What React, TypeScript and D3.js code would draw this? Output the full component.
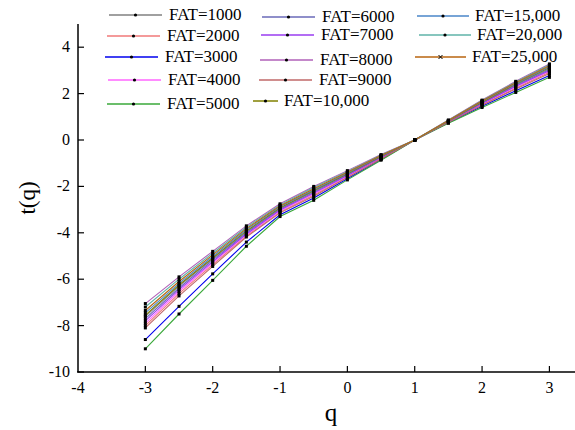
import React from 'react';
import * as d3 from 'd3';

const qValues = [-3, -2.5, -2, -1.5, -1, -0.5, 0, 0.5, 1, 1.5, 2, 2.5, 3];
const seriesNames = [
  'FAT=1000', 'FAT=2000', 'FAT=3000', 'FAT=4000', 'FAT=5000',
  'FAT=6000', 'FAT=7000', 'FAT=8000', 'FAT=9000', 'FAT=10,000',
  'FAT=15,000', 'FAT=20,000', 'FAT=25,000',
];
const seriesColors = [
  '#808080', '#f07878', '#0000ee', '#ff66ff', '#3aa83a',
  '#6a6ab8', '#9a3cf0', '#b060b8', '#c06868', '#808000',
  '#4a86c8', '#5fb3a8', '#b8650f',
];
const fat1000 = [-7.6, -6.3, -5.12, -3.96, -2.95, -2.21, -1.47, -0.72, 0, 0.81, 1.61, 2.38, 3.08];
const fat2000 = [-8.0, -6.62, -5.37, -4.13, -3.1, -2.37, -1.59, -0.8, 0, 0.77, 1.52, 2.24, 2.92];
const fat3000 = [-8.6, -7.17, -5.77, -4.4, -3.22, -2.5, -1.67, -0.84, 0, 0.74, 1.45, 2.12, 2.78];
const fat4000 = [-7.9, -6.53, -5.3, -4.09, -3.06, -2.33, -1.56, -0.78, 0, 0.78, 1.55, 2.28, 2.96];
const fat5000 = [-9.0, -7.5, -6.05, -4.58, -3.3, -2.6, -1.72, -0.87, 0, 0.72, 1.4, 2.05, 2.7];
const fat6000 = [-7.7, -6.38, -5.18, -4.0, -2.98, -2.25, -1.5, -0.74, 0, 0.8, 1.59, 2.35, 3.04];
const fat7000 = [-7.8, -6.45, -5.24, -4.05, -3.02, -2.29, -1.53, -0.76, 0, 0.79, 1.57, 2.32, 3.0];
const fat8000 = [-7.05, -5.9, -4.8, -3.7, -2.75, -2.0, -1.32, -0.63, 0, 0.86, 1.72, 2.53, 3.28];
const fat9000 = [-8.1, -6.72, -5.45, -4.18, -3.14, -2.42, -1.62, -0.82, 0, 0.76, 1.5, 2.2, 2.87];
const fat10000 = [-7.55, -6.25, -5.08, -3.92, -2.92, -2.18, -1.45, -0.71, 0, 0.82, 1.63, 2.41, 3.12];
const fat15000 = [-7.45, -6.18, -5.02, -3.87, -2.88, -2.14, -1.42, -0.69, 0, 0.83, 1.66, 2.44, 3.16];
const fat20000 = [-7.2, -6.0, -4.88, -3.76, -2.8, -2.05, -1.36, -0.65, 0, 0.85, 1.7, 2.5, 3.24];
const fat25000 = [-7.35, -6.1, -4.95, -3.82, -2.84, -2.1, -1.39, -0.67, 0, 0.84, 1.68, 2.47, 3.2];
const seriesValues = [
  fat1000, fat2000, fat3000, fat4000, fat5000, fat6000, fat7000,
  fat8000, fat9000, fat10000, fat15000, fat20000, fat25000,
];
const xTicks = [-4, -3, -2, -1, 0, 1, 2, 3];
const yTicks = [-10, -8, -6, -4, -2, 0, 2, 4];

// legend layout: [lineX1, lineX2, textX, y]
const legendPos: [number, number, number, number][] = [
  [109, 162, 169, 15], [107, 160, 167, 36], [105, 158, 165, 57], [108, 161, 168, 80], [107, 160, 167, 104],
  [262, 315, 322, 17], [261, 314, 321, 35], [260, 313, 320, 60], [259, 312, 319, 80], [253, 278, 284, 101],
  [417, 469, 475, 16], [419, 471, 477, 35], [415, 466, 472, 57],
];

const FONT = "'Times New Roman'";

export default function App() {
  const x = d3.scaleLinear().domain([-4, 3.38]).range([78, 575]);
  const y = d3.scaleLinear().domain([-10, 5]).range([372, 24]);
  const line = d3.line<number>().x((_, i) => x(qValues[i])).y((d) => y(d));
  const ts = (size: number) => ({ fontFamily: FONT, fontSize: size + 'px' });

  return (
    <svg width={575} height={430} style={{ position: 'absolute', left: 0, top: 0, background: '#fff' }}>
      <line x1={78} x2={78} y1={24} y2={372} stroke="#000" strokeWidth={1.5} />
      <line x1={77} x2={575} y1={372} y2={372} stroke="#000" strokeWidth={1.5} />
      {yTicks.map((t) => (
        <g key={'y' + t}>
          <line x1={78} x2={84} y1={y(t)} y2={y(t)} stroke="#000" strokeWidth={1.2} />
          <text x={70} y={y(t) + 5} textAnchor="end" style={ts(16)}>{t}</text>
        </g>
      ))}
      {xTicks.map((t) => (
        <g key={'x' + t}>
          {t !== -4 && <line x1={x(t)} x2={x(t)} y1={372} y2={366} stroke="#000" strokeWidth={1.2} />}
          <text x={x(t)} y={393} textAnchor="middle" style={ts(16)}>{t}</text>
        </g>
      ))}
      <text x={331} y={421} textAnchor="middle" style={ts(25)}>q</text>
      <text transform={`translate(35,198) rotate(-90)`} textAnchor="middle" style={ts(23)}>t(q)</text>

      {seriesValues.map((vals, si) => (
        <path key={'s' + si} d={line(vals) || ''} fill="none" stroke={seriesColors[si]} strokeWidth={1.1} />
      ))}
      {seriesValues.map((vals, si) => (
        <g key={'m' + si}>
          {vals.map((v, i) => (
            <rect key={i} x={x(qValues[i]) - 1.5} y={y(v) - 1.5} width={3} height={3} fill="#000" />
          ))}
        </g>
      ))}

      {seriesNames.map((name, si) => {
        const [lx1, lx2, tx, ly] = legendPos[si];
        const mx = (lx1 + lx2) / 2;
        return (
          <g key={'l' + si}>
            <line x1={lx1} x2={lx2} y1={ly} y2={ly} stroke={seriesColors[si]} strokeWidth={1.5} />
            {si === 12 ? (
              <path d={`M${mx - 2},${ly - 2}L${mx + 2},${ly + 2}M${mx - 2},${ly + 2}L${mx + 2},${ly - 2}`} stroke="#000" strokeWidth={1} />
            ) : (
              <circle cx={mx} cy={ly} r={1.6} fill="#000" />
            )}
            <text x={tx} y={ly + 5} style={ts(17)}>{name}</text>
          </g>
        );
      })}
    </svg>
  );
}
